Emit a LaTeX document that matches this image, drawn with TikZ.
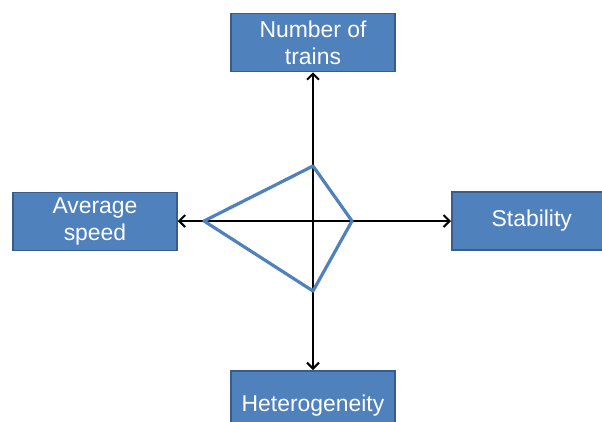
\documentclass[tikz,border=0pt]{standalone}
\usepackage{fontspec}
\setmainfont{Liberation Sans}
\usetikzlibrary{arrows.meta}
\definecolor{boxfill}{HTML}{4F81BD}
\definecolor{boxline}{HTML}{385D8A}
\begin{document}
\begin{tikzpicture}[x=1bp,y=-1bp,
  box/.style={draw=boxline,line width=1.5bp,fill=boxfill,text=white,
    font=\fontsize{23}{27}\selectfont,align=center,inner sep=0pt},
  axis/.style={line width=2bp,-{Straight Barb[length=6bp,width=12bp,line width=2bp]}},
  kite/.style={draw=boxfill,line width=3.2bp,line join=round}]
\useasboundingbox (0,0) rectangle (602,421);
\clip (0,0) rectangle (602,421);
\node[box,minimum width=164bp,minimum height=58bp] (top) at (313,42.5) {Number of\\trains};
\node[box,minimum width=164bp,minimum height=58bp] (left) at (95,221.5) {Average\\speed};
\node[box,minimum width=160bp,minimum height=58bp,anchor=west] (right) at (451,221) {Stability};
\node[box,minimum width=164bp,minimum height=58bp,anchor=north,text depth=0pt] (bot) at (313,370) {\raisebox{-7bp}{Heterogeneity}};
\coordinate (c) at (313,221);
\draw[axis] (c) -- (c |- top.south);
\draw[axis] (c) -- (c |- bot.north);
\draw[axis] (c) -- (c -| left.east);
\draw[axis] (c) -- (c -| right.west);
\coordinate (kt) at (313,166);
\coordinate (kr) at (352,221);
\coordinate (kb) at (313,291);
\coordinate (kl) at (204,221);
\draw[kite] (kt) -- (kr) -- (kb) -- (kl) -- cycle;
\end{tikzpicture}
\end{document}
